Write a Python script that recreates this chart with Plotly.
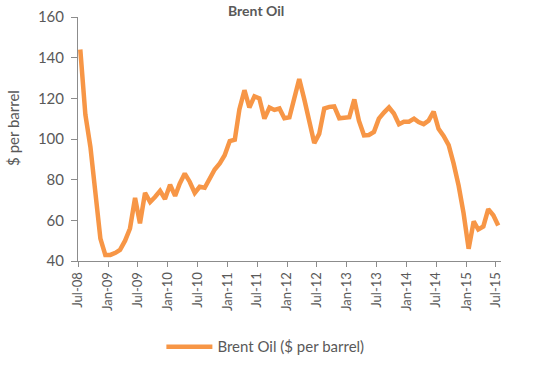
import pandas as pd
import plotly.graph_objects as go

# Monthly Brent prices, Jul-08 .. Jul-15
months = pd.date_range("2008-07-01", periods=85, freq="MS")
prices = [
    144, 112, 96, 75, 51, 43, 43, 44, 45.5, 50, 56, 71,
    58.5, 73.5, 69, 71.5, 74.5, 70.5, 77.5, 72, 78, 83, 79, 73.5,
    76.5, 76, 80.5, 85, 88, 92, 99, 99.7, 114.5, 124, 115.5, 121,
    120, 110, 115.5, 114.3, 115, 110.2, 110.7, 120, 129.5, 119.5, 108.5, 98,
    102.5, 115, 115.8, 116, 110.2, 110.5, 110.7, 119.5, 109, 101.8, 102, 103.5,
    110, 113, 115.5, 112.5, 107.3, 108.5, 108.5, 110, 108.3, 107.3, 109, 113.5,
    105, 101.5, 97, 88, 77, 63.5, 46, 59.5, 55.5, 57, 65.5, 62.5,
    57.5,
]
series_name = "Brent Oil ($ per barrel)"
title_text = "Brent Oil"
y_title = "$ per barrel"
y_ticks = [40, 60, 80, 100, 120, 140, 160]

# points sit in the middle of each month
x_vals = months + pd.Timedelta(days=14)

gray = "#595959"
axis_gray = "#8c8c8c"
font_family = "Lato, 'Open Sans', sans-serif"

fig = go.Figure()
fig.add_trace(go.Scatter(
    x=x_vals, y=prices, mode="lines", name=series_name,
    line=dict(color="#F79646", width=4.5),
))

fig.update_layout(
    width=550, height=370,
    margin=dict(l=78, r=49, t=17, b=109, autoexpand=False),
    paper_bgcolor="white", plot_bgcolor="white",
    font=dict(family=font_family, color=gray, size=14),
    showlegend=True,
    legend=dict(orientation="h", x=0.443, xanchor="center", y=-0.352, yanchor="middle",
                itemwidth=46, font=dict(size=15, color=gray)),
    annotations=[
        dict(text="<b>" + title_text + "</b>", x=0.42, xref="paper", y=1.0,
             yref="paper", yanchor="bottom", xanchor="center", showarrow=False,
             yshift=-4, font=dict(size=14, color=gray)),
        dict(text=y_title, x=-0.154, xref="paper", y=0.545, yref="paper",
             xanchor="center", yanchor="middle", textangle=-90, showarrow=False,
             font=dict(size=15, color=gray)),
    ],
)
fig.update_xaxes(
    range=["2008-07-01", "2015-08-01"],
    tick0="2008-07-01", dtick="M6", tickformat="%b-%y", tickangle=-90,
    showline=True, linecolor=axis_gray, linewidth=1,
    ticks="outside", ticklen=5, tickcolor=axis_gray,
    showgrid=False, zeroline=False, automargin=False,
    tickfont=dict(size=13, color=gray),
)
fig.update_yaxes(
    range=[40, 160], tickvals=y_ticks,
    showline=True, linecolor=axis_gray, linewidth=1,
    ticks="outside", ticklen=6, tickcolor=axis_gray,
    ticklabelstandoff=4,
    showgrid=False, zeroline=False, automargin=False,
    tickfont=dict(size=15, color=gray),
)

fig.write_html("out.html", config={"displayModeBar": False},
               post_script="document.body.style.margin='0';")
